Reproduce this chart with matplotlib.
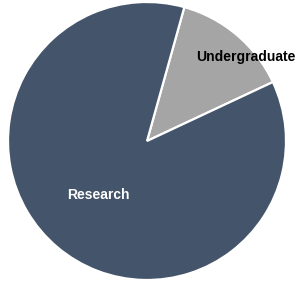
import matplotlib
matplotlib.use("Agg")
import matplotlib.pyplot as plt

# slice data (share of total, %)
categories = ["Undergraduate", "Research"]
values = [13.7, 86.3]
colors = ["#A5A5A5", "#44546A"]
label_colors = ["black", "white"]

# label placement (data units, pie radius = 1)
label_pos = [(0.712, 0.606), (-0.347, -0.388)]

fig = plt.figure(figsize=(2.98, 2.81), dpi=100)
ax = fig.add_axes([0, 0, 1, 1])

wedges, _ = ax.pie(values, colors=colors, startangle=25.1, counterclock=True,
                   radius=1.0, wedgeprops=dict(edgecolor="white", linewidth=1.6))

for name, (x, y), c in zip(categories, label_pos, label_colors):
    ax.text(x, y, name, ha="center", va="center", color=c, fontsize=10,
            fontweight="bold", family="Liberation Sans")

# map the pie so it sits where the original one does
ax.set_xlim(-147 / 139, 151 / 139)
ax.set_ylim(-140 / 139, 141 / 139)
ax.set_aspect("auto")
ax.axis("off")

fig.savefig("out.png", dpi=100)
